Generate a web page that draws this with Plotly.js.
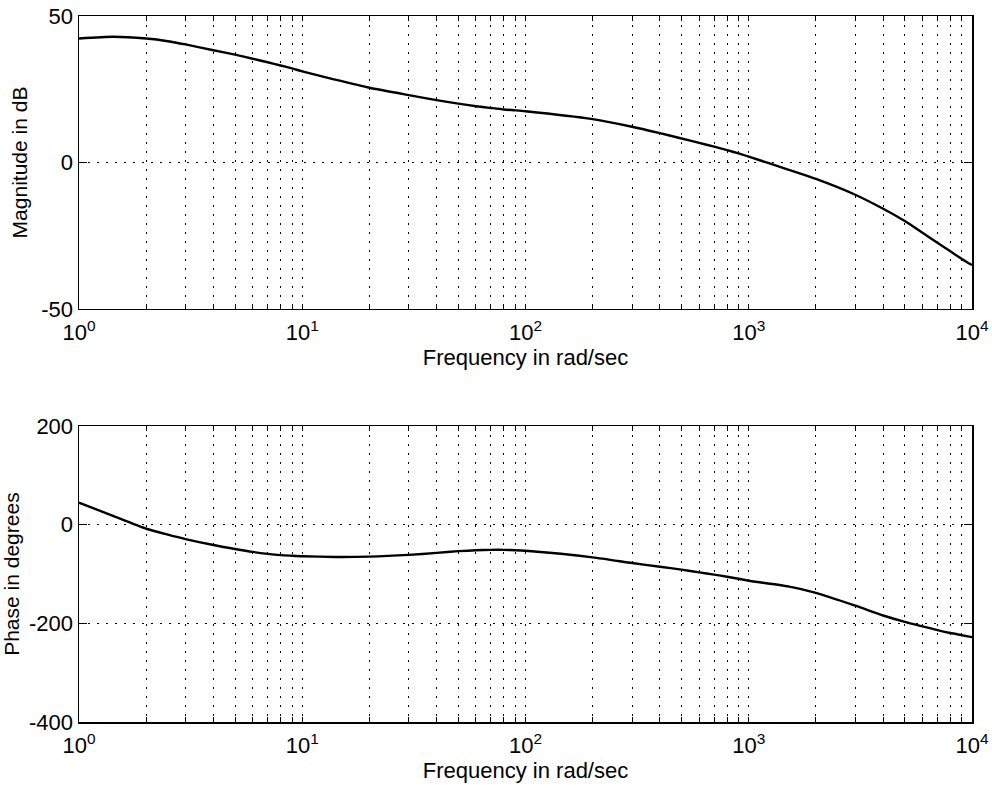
<!DOCTYPE html>
<html>
<head>
<meta charset="utf-8">
<script src="https://cdn.plot.ly/plotly-3.0.1.min.js"></script>
<style>html,body{margin:0;padding:0;background:#fff;}#chart{width:992px;height:789px;}</style>
</head>
<body>
<div id="chart"></div>
<script>
// Frequency (rad/sec)
const freq = [1, 1.42, 2, 2.5, 3, 4, 5, 6, 7, 8, 9, 10, 14, 20, 30, 40, 50, 60, 70, 80, 90, 100, 200, 300, 400, 500, 600, 700, 800, 900, 1000, 1500, 2000, 3000, 4000, 5000, 6000, 7000, 8000, 9000, 10000];
// Magnitude in dB
const magnitude = [42.3, 42.9, 42.3, 41.4, 40.3, 38.3, 36.8, 35.4, 34.2, 33.1, 32.1, 31.1, 28.3, 25.5, 23.0, 21.3, 20.1, 19.2, 18.6, 18.1, 17.8, 17.5, 14.8, 12.2, 10.0, 8.2, 6.7, 5.4, 4.2, 3.1, 2.0, -2.4, -5.6, -11.0, -15.8, -20.0, -24.0, -27.4, -30.3, -32.9, -35.0];
// Phase in degrees
const phase = [45, 18, -8, -20, -29, -41, -49, -55, -59, -61.5, -62.8, -63.8, -65.2, -64.5, -61, -57, -53.5, -51.5, -50.8, -50.8, -51.5, -52.7, -66, -77.5, -85, -91, -96.5, -101, -105.5, -109.5, -113.5, -125, -138, -164, -184, -197, -206, -213.5, -219.5, -224, -228];

const decades = [1, 10, 100, 1000, 10000];
const decadeLabels = ["10<sup>0</sup>", "10<sup>1</sup>", "10<sup>2</sup>", "10<sup>3</sup>", "10<sup>4</sup>"];
const magTicks = [-50, 0, 50];
const magTickText = ["-50", "0", "50"];
const phaseTicks = [-400, -200, 0, 200];
const phaseTickText = ["-400", "-200", "0", "200"];
const xTitle = "Frequency in rad/sec";
const magTitle = "Magnitude in dB";
const phaseTitle = "Phase in degrees";

// tick positions: all 1..9 multiples per decade, labels only on decades
const xTickVals = [];
const xTickText = [];
for (let d = 0; d < decades.length; d++) {
  for (let m = 1; m <= 9; m++) {
    const v = decades[d] * m;
    if (v > 10000) break;
    xTickVals.push(v);
    xTickText.push(m === 1 ? decadeLabels[d] : "");
  }
}

const FONT = "Liberation Sans, Arial, Helvetica, sans-serif";
const gridDash = "1.5px,7.5px";

function xaxis(anchor) {
  return {
    type: "log",
    range: [0, 4],
    anchor: anchor,
    tickmode: "array",
    tickvals: xTickVals,
    ticktext: xTickText,
    ticks: "inside",
    ticklen: 5,
    tickcolor: "#000",
    tickwidth: 1,
    ticklabelstandoff: 3,
    showline: true,
    linecolor: "#000",
    linewidth: 1.5,
    mirror: "allticks",
    showgrid: true,
    gridcolor: "#000",
    gridwidth: 1,
    griddash: gridDash,
    zeroline: false,
    tickfont: {family: FONT, size: 22, color: "#000"},
    title: {text: xTitle, font: {family: FONT, size: 22, color: "#000"}, standoff: 0},
    automargin: false
  };
}

function yaxis(anchor, domain, range, ticks, tickText, title, standoff) {
  return {
    domain: domain,
    anchor: anchor,
    range: range,
    tickmode: "array",
    tickvals: ticks,
    ticktext: tickText,
    ticks: "inside",
    ticklen: 8,
    tickcolor: "#000",
    showline: true,
    linecolor: "#000",
    linewidth: 1.5,
    mirror: "allticks",
    showgrid: true,
    gridcolor: "#000",
    gridwidth: 1,
    griddash: gridDash,
    zeroline: false,
    tickfont: {family: FONT, size: 22, color: "#000"},
    title: {text: title, font: {family: FONT, size: 21, color: "#000"}, standoff: standoff},
    automargin: false
  };
}

const traces = [
  {x: freq, y: magnitude, xaxis: "x", yaxis: "y", type: "scatter", mode: "lines",
   line: {color: "#000", width: 2.4, shape: "spline", smoothing: 0.6}, hoverinfo: "skip"},
  {x: freq, y: phase, xaxis: "x2", yaxis: "y2", type: "scatter", mode: "lines",
   line: {color: "#000", width: 2.4, shape: "spline", smoothing: 0.6}, hoverinfo: "skip"}
];

const layout = {
  width: 992,
  height: 789,
  margin: {l: 79, r: 20, t: 16, b: 67},
  paper_bgcolor: "#fff",
  plot_bgcolor: "#fff",
  showlegend: false,
  xaxis: xaxis("y"),
  yaxis: yaxis("x", [0.585, 1], [-50, 50], magTicks, magTickText, magTitle, 8),
  xaxis2: xaxis("y2"),
  yaxis2: yaxis("x2", [0, 0.419], [-400, 200], phaseTicks, phaseTickText, phaseTitle, 6)
};

Plotly.newPlot("chart", traces, layout, {staticPlot: true, displayModeBar: false});
</script>
</body>
</html>
